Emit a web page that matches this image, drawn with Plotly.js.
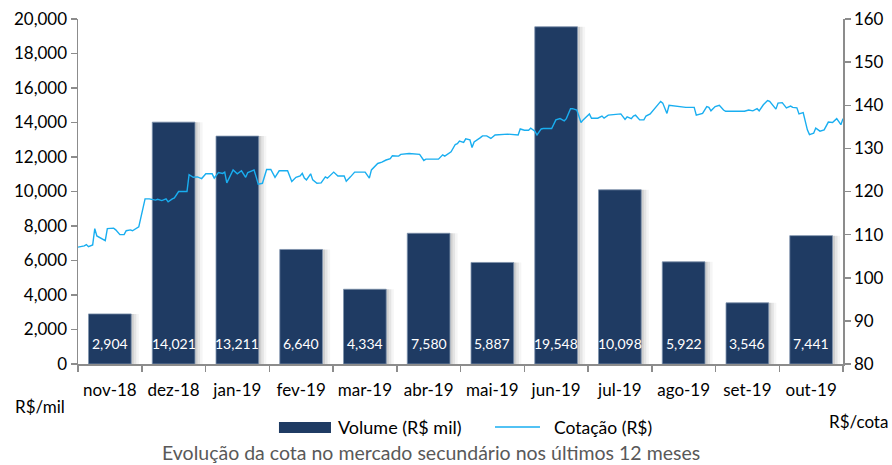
<!DOCTYPE html>
<html>
<head>
<meta charset="utf-8">
<script src="https://cdn.plot.ly/plotly-3.0.1.min.js"></script>
<style>html,body{margin:0;padding:0;background:#fff;}#chart{width:892px;height:465px;}</style>
</head>
<body>
<div id="chart"></div>
<script>
// ---- data ----
const meses = ['nov-18','dez-18','jan-19','fev-19','mar-19','abr-19','mai-19','jun-19','jul-19','ago-19','set-19','out-19'];
const volume = [2904, 14021, 13211, 6640, 4334, 7580, 5887, 19548, 10098, 5922, 3546, 7441];
// days since 2018-11-01 for each quote reading
const dias = [0,3,4,5,7,8,9,11,13,14,17,18,20,22,23,25,26,29,32,34,37,38,40,42,43,45,46,48,52,53,55,57,59,61,64,65,67,69,70,71,74,
  76,78,80,81,83,84,85,86,88,90,92,94,96,100,102,104,106,107,108,109,111,112,114,116,118,119,122,124,127,128,130,132,137,139,140,143,145,147,149,
  150,153,154,158,161,163,165,166,172,174,175,178,180,181,182,184,185,187,188,189,192,193,195,197,199,205,210,211,213,215,216,218,219,221,
  222,226,228,230,232,233,235,236,238,240,241,242,244,245,248,250,251,253,257,259,261,262,264,265,266,268,270,271,273,278,279,281,282,286,290,
  294,295,298,300,301,302,304,306,308,309,318,320,322,324,325,327,329,330,333,334,336,338,340,341,343,344,346,348,349,351,352,354,356,358,360,362,364,365];
const cotacao = [107.1,107.4,107.7,107.2,107.6,111.4,109.7,109.1,108.6,111.4,111.5,111.1,110.0,110.0,110.9,111.1,110.9,111.8,118.3,118.3,118.0,118.2,117.9,118.3,117.6,118.3,118.5,120.0,120.0,123.9,123.3,123.4,123.0,124.1,124.1,123.1,124.4,124.2,124.5,122.0,125.0,
  124.1,124.8,123.3,124.4,124.8,125.0,123.4,121.7,121.9,125.1,125.1,123.3,124.8,124.8,122.3,123.3,123.6,124.2,123.1,122.7,124.1,122.7,121.9,122.0,123.4,123.1,124.5,123.6,123.6,122.4,123.4,124.5,124.5,123.1,125.0,126.5,126.8,127.3,127.6,
  128.3,128.2,128.6,128.8,128.6,128.6,127.2,127.5,127.5,128.5,128.2,129.2,130.9,131.1,131.7,131.4,132.2,132.0,130.2,131.5,132.5,132.9,132.9,132.3,133.1,133.3,133.1,134.5,134.2,134.2,134.7,134.0,133.1,134.5,
  134.6,134.6,136.6,136.9,136.4,136.9,139.2,139.2,138.9,136.0,136.6,137.0,138.0,137.0,137.0,137.5,137.0,137.7,138.0,138.0,136.7,137.3,136.9,137.5,137.7,136.6,136.6,137.5,138.0,140.9,140.5,138.1,140.0,139.7,139.5,
  139.5,137.7,138.1,139.7,139.5,138.7,139.7,140.0,138.9,138.6,138.6,138.9,138.7,139.2,138.7,140.1,141.1,140.9,139.1,140.5,140.6,139.4,139.8,139.5,139.4,138.0,138.3,134.3,133.2,133.5,134.7,134.0,134.3,136.1,136.0,136.9,135.5,136.9];
const rotulos = volume.map(v => v.toLocaleString('en-US'));

// ---- build ----
const base = new Date(Date.UTC(2018, 10, 1));
const datas = dias.map(d => new Date(base.getTime() + d * 86400000).toISOString().slice(0, 10));

const FONT = 'Lato, "Open Sans", sans-serif';
const NAVY = '#1f3b63';
const BLUE = '#19aef0';
const AX = '#8c8c8c';
const BW = 0.67;

const traces = [];
// soft shadow layers
[0.04, 0.08, 0.12].forEach((s, i) => {
  traces.push({
    type: 'bar', x: meses, y: volume, width: BW, offset: -BW / 2 + s,
    marker: { color: 'rgba(0,0,0,' + (0.09 - i * 0.025) + ')', line: { width: 0 } },
    hoverinfo: 'skip', showlegend: false, xaxis: 'x', yaxis: 'y'
  });
});
traces.push({
  type: 'bar', name: 'Volume (R$ mil)', x: meses, y: volume, width: BW, offset: -BW / 2,
  marker: { color: NAVY, line: { color: '#7f93ad', width: 0.8 } },
  showlegend: false, xaxis: 'x', yaxis: 'y'
});
traces.push({
  type: 'scatter', mode: 'lines', name: 'Cotação (R$)', x: datas, y: cotacao,
  line: { color: BLUE, width: 1.4 }, showlegend: false, xaxis: 'x2', yaxis: 'y2'
});

const annotations = meses.map((m, i) => ({
  x: m, y: 0, xref: 'x', yref: 'y', yshift: 21, text: rotulos[i], showarrow: false,
  font: { family: FONT, size: 14, color: '#ffffff' }, xanchor: 'center', yanchor: 'middle'
}));
annotations.push(
  { xref: 'paper', yref: 'paper', x: -0.0497, y: -0.1246, text: 'R$/mil', showarrow: false,
    font: { family: FONT, size: 17, color: '#000' }, xanchor: 'center', yanchor: 'middle' },
  { xref: 'paper', yref: 'paper', x: 0.979, y: -0.168, text: 'R$/cota', showarrow: false,
    font: { family: FONT, size: 17, color: '#000' }, xanchor: 'left', yanchor: 'middle' },
  { xref: 'paper', yref: 'paper', x: 0.3373, y: -0.184, text: 'Volume (R$ mil)', showarrow: false,
    font: { family: FONT, size: 18, color: '#000' }, xanchor: 'left', yanchor: 'middle' },
  { xref: 'paper', yref: 'paper', x: 0.6196, y: -0.184, text: 'Cotação (R$)', showarrow: false,
    font: { family: FONT, size: 17.5, color: '#000' }, xanchor: 'left', yanchor: 'middle' },
  { xref: 'paper', yref: 'paper', x: 0.4614, y: -0.257, text: 'Evolução da cota no mercado secundário nos últimos 12 meses', showarrow: false,
    font: { family: FONT, size: 19.5, color: '#595959' }, xanchor: 'center', yanchor: 'middle' }
);

const shapes = [
  { type: 'rect', xref: 'paper', yref: 'paper', x0: 0.2627, x1: 0.3307, y0: -0.2, y1: -0.168,
    fillcolor: NAVY, line: { width: 0 } },
  { type: 'line', xref: 'paper', yref: 'paper', x0: 0.5451, x1: 0.6039, y0: -0.1826, y1: -0.1826,
    line: { color: BLUE, width: 1.4 } }
];

const layout = {
  width: 892, height: 465,
  margin: { l: 78, r: 49, t: 19, b: 101, pad: 0 },
  paper_bgcolor: '#fff', plot_bgcolor: '#fff',
  barmode: 'overlay', showlegend: false,
  font: { family: FONT, size: 17, color: '#000' },
  xaxis: {
    type: 'category', categoryorder: 'array', categoryarray: meses, range: [-0.5, 11.5],
    showline: true, linecolor: AX, linewidth: 1.5, ticks: 'outside', tickson: 'boundaries',
    ticklen: 6, tickcolor: AX, tickwidth: 1.5, showgrid: false, zeroline: false, tickangle: 0,
    ticklabelstandoff: 10,
    tickfont: { family: FONT, size: 17, color: '#000' }, fixedrange: true
  },
  xaxis2: {
    type: 'date', overlaying: 'x', range: ['2018-11-01', '2019-11-01'], visible: false, fixedrange: true
  },
  yaxis: {
    range: [0, 20000], dtick: 2000, tickformat: ',d', showline: true, linecolor: AX, linewidth: 1.5,
    ticks: 'outside', ticklen: 6, tickcolor: AX, tickwidth: 1.5, showgrid: false, zeroline: false,
    tickfont: { family: FONT, size: 17, color: '#000' }, fixedrange: true
  },
  yaxis2: {
    range: [80, 160], dtick: 10, overlaying: 'y', side: 'right', showline: true, linecolor: AX, linewidth: 1.5,
    ticks: 'outside', ticklen: 6, tickcolor: AX, tickwidth: 1.5, showgrid: false, zeroline: false,
    tickfont: { family: FONT, size: 17, color: '#000' }, fixedrange: true
  },
  annotations: annotations,
  shapes: shapes
};

Plotly.newPlot('chart', traces, layout, { displayModeBar: false, staticPlot: true });
</script>
</body>
</html>
